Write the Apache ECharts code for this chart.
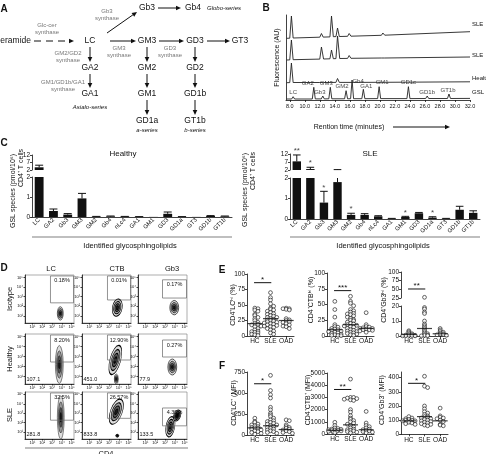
<!DOCTYPE html>
<html>
<head>
<meta charset="utf-8">
<script src="https://cdn.jsdelivr.net/npm/echarts@6/dist/echarts.min.js"></script>
<style>
html, body { margin: 0; padding: 0; background: #fff; }
#main { width: 486px; height: 454px; }
</style>
</head>
<body>
<div id="main"></div>
<script>
var FONT = '"Liberation Sans", Arial, Helvetica, sans-serif';

// ---------- A: pathway ----------
var pathNodes = ['Ceramide', 'LC', 'GA2', 'GA1', 'Gb3', 'Gb4', 'GM3', 'GM2', 'GM1', 'GD1a', 'GD3', 'GD2', 'GD1b', 'GT1b', 'GT3'];
var pathEnzymes = ['Glc-cer\nsynthase', 'Gb3\nsynthase', 'GM2/GD2\nsynthase', 'GM1/GD1b/GA1\nsynthase', 'GM3\nsynthase', 'GD3\nsynthase'];
var pathSeriesNames = ['Globo-series', 'Asialo-series', 'a-series', 'b-series'];

// ---------- B: HPLC traces [minutes, fluorescence (stacked, AU)] ----------
var bTraceNames = ['SLE', 'SLE', 'Healthy', 'GSL std'];
var bSLE1 = [[7.6,61.7],[8.0,61.8],[8.22,84],[8.45,62],[12.0,62.8],[12.22,66.5],[12.45,62.9],[13.35,63.1],[13.56,84],[13.8,63.3],[14.15,63.4],[14.36,72],[14.6,63.5],[15.7,63.7],[15.91,66.5],[16.15,63.8],[20.2,64.7],[20.4,67],[20.65,64.8],[32,68.3]];
var bSLE2 = [[7.6,40],[8.0,40.1],[8.22,60],[8.45,40.3],[12.0,40.9],[12.22,53],[12.5,41],[13.35,41.2],[13.56,50],[13.8,41.3],[14.15,41.4],[14.36,64],[14.65,41.5],[15.7,41.6],[15.91,44.5],[16.15,41.7],[20.2,42],[20.4,44],[20.65,42],[32,43]];
var bHealthy = [[7.6,17.3],[8.0,17.4],[8.22,37],[8.45,17.5],[12.0,17.5],[12.22,18.5],[12.45,17.5],[14.15,17.6],[14.36,21.5],[14.6,17.6],[16.5,17.6],[16.7,19.2],[16.95,17.6],[20.2,17.7],[20.4,18.3],[20.6,17.7],[32,18.2]];
var bStd = [[7.6,1],[8.25,1],[8.45,3.3],[8.65,1],[11.0,1],[11.2,12.7],[11.4,1.1],[12.2,1.1],[12.4,4],[12.6,1.1],[13.2,1.2],[13.4,12.7],[13.6,1.2],[15.3,1.2],[15.5,9.3],[15.7,1.2],[16.1,1.3],[16.3,20],[16.5,1.3],[17.6,1.3],[17.8,10.7],[18.0,1.3],[19.7,1.4],[19.9,13.3],[20.1,1.4],[23.6,1.4],[23.8,13.3],[24.0,1.4],[26.1,1.5],[26.3,4],[26.5,1.5],[29.0,1.5],[29.2,6],[29.4,1.5],[32,1.6]];
var bStdPeakNames = ['LC', 'GA2', 'Gb3', 'GM3', 'GM2', 'Gb4', 'GA1', 'GM1', 'GD1c', 'GD1b', 'GT1b'];
var bStdPeakTimes = [8.45, 11.2, 12.4, 13.4, 15.5, 16.3, 17.8, 19.9, 23.8, 26.3, 29.2];
var bStdPeakHeights = [3.3, 12.7, 4, 12.7, 9.3, 20, 10.7, 13.3, 13.3, 4, 6];
var bTicks = [8, 10, 12, 14, 16, 18, 20, 22, 24, 26, 28, 30, 32];

// ---------- C: GSL species (pmol/10^6 CD4+ T cells) ----------
var gslCats = ['LC', 'GA2', 'Gb3', 'GM3', 'GM2', 'Gb4', 'nLc4', 'GA1', 'GM1', 'GD3', 'GD1a', 'GT3', 'GD1b', 'GT1b'];
var healthyMean = [3.8, 0.3, 0.12, 0.93, 0.02, 0.03, 0.02, 0.01, 0.005, 0.16, 0.01, 0.005, 0.05, 0.03];
var healthyErr = [1.4, 0.1, 0.05, 0.25, 0.01, 0.02, 0.01, 0.01, 0, 0.09, 0.01, 0, 0.02, 0.02];
var sleMean = [7.4, 2.6, 0.8, 1.8, 0.2, 0.2, 0.13, 0.02, 0.1, 0.28, 0.07, 0.02, 0.45, 0.3];
var sleErr = [4.0, 1.1, 0.55, 0.45, 0.08, 0.06, 0.03, 0.01, 0.03, 0.04, 0.04, 0.01, 0.17, 0.1];
var sleStars = ['**', '*', '*', '', '*', '', '', '', '*', '', '*', '', '', ''];
var cLowTicks = [0, 1, 2];
var cHighTicks = [2, 7, 12];

// ---------- D: flow cytometry ----------
var dCols = ['LC', 'CTB', 'Gb3'];
var dRows = ['Isotype', 'Healthy', 'SLE'];
var dPct = [['0.18%', '0.01%', '0.17%'], ['8.20%', '12.90%', '0.27%'], ['32.5%', '26.57%', '4.39%']];
var dMfi = [['', '', ''], ['107.1', '451.0', '77.9'], ['281.8', '833.8', '133.5']];
var dGates = [
  [[2.6, 2.1, 4.95, 4.9], [2.6, 2.4, 4.95, 4.9], [2.5, 2.6, 4.95, 4.5]],
  [[2.6, 2.2, 4.95, 4.9], [2.6, 2.4, 4.95, 4.9], [2.5, 2.7, 4.95, 4.4]],
  [[2.6, 2.0, 4.95, 4.9], [2.6, 2.2, 4.95, 4.9], [2.5, 1.4, 4.95, 3.3]]
];
// contour populations: [CD4, marker, half-width, half-height, tilt deg, dense]
var dBlobs = [
  [[[3.6, 1.0, 0.3, 0.7, 0, 0]], [[3.6, 1.6, 0.5, 0.9, -10, 0]], [[3.7, 1.6, 0.45, 0.75, 0, 0]]],
  [[[3.5, 1.95, 0.4, 1.9, 0, 0]], [[3.5, 0.5, 0.2, 0.5, 0, 0], [3.4, 2.4, 0.55, 1.5, -15, 0]], [[3.5, 1.7, 0.45, 0.8, 0, 0]]],
  [[[3.65, 2.3, 0.35, 2.3, 0, 0]], [[3.6, 0.35, 0.15, 0.15, 0, 0], [3.5, 2.9, 0.6, 1.4, -20, 0]], [[3.3, 1.3, 0.45, 1.1, -10, 0], [4.0, 2.5, 0.35, 0.6, -20, 1]]]
];
var dTicks = [0.75, 1.75, 2.75, 3.75, 4.75];

// ---------- E / F: dot plots ----------
var dotGroups = ['HC', 'SLE', 'OAD'];
var e1HC = [45,44,42,40,35,33,30,28,25,22,20,19,18,16,15,12,10,8,7,6,5,3,2,1];
var e1SLE = [70,62,58,52,48,45,43,42,40,38,36,35,33,32,30,30,28,27,26,25,24,23,22,21,20,19,18,17,16,15,14,12,10,8,5,3];
var e1OAD = [45,44,44,43,42,28,26,25,23,22,20,18,16,15,12];
var e1Med = [20, 28, 25];
var e2HC = [55,42,30,18,15,14,12,11,10,9,8,7,6,5,4,3,2,1,1,0.5];
var e2SLE = [63,55,52,48,42,40,38,36,35,34,32,30,28,26,25,24,22,20,19,18,17,16,15,14,12,10,9,8,7,6,5,4,3,2,1];
var e2OAD = [37,18,15,14,13,12,12,11,10,10,9,8,6];
var e2Med = [10, 18, 12];
var e3HC = [3.5,2.8,2,1.5,1,0.8,0.6,0.5,0.4,0.3,0.2,0.1,0.1];
var e3SLE = [27,19,18,16,15,10,8,7,6,5,4,3,2,1.5,1,0.5,0.3,0.2,0.1];
var e3OAD = [5,4,3,2.5,2,1.5,1.2,1,0.8,0.5];
var e3Med = [1, 5, 1.5];
var f1HC = [200,160,150,130,120,110,100,90,85,80,70,60,50,40,30,20,10];
var f1SLE = [710,530,480,440,330,300,260,240,220,200,180,170,160,150,140,130,120,110,100,90,80,70,60,50,40,30,20];
var f1OAD = [180,170,120,100,90,80,70,60,50,40,30,20];
var f1Med = [85, 110, 65];
var f2HC = [960,700,500,450,400,380,350,320,300,280,250,220,200,150,100];
var f2SLE = [4500,3000,3000,2950,2900,2850,2800,2750,2000,1800,1500,1300,1200,1100,1000,900,800,700,600,500,400,350,300,250,200,150,100];
var f2OAD = [1850,900,700,600,500,400,350,300,250,200,150,100];
var f2Med = [300, 750, 350];
var f3HC = [125,115,110,105,100,100,95,95,90,90,85,80,75,70];
var f3SLE = [410,340,330,200,180,160,150,140,130,125,120,115,110,105,100,95,90,85,80,75,70,65,60];
var f3OAD = [185,130,120,115,110,100,90,70,65,60];
var f3Med = [95, 125, 95];
var eTicks = [0, 25, 50, 75, 100];
var e3LowTicks = [0, 10, 20];
var e3HighTicks = [25, 50, 75, 100];
var f1Ticks = [0, 250, 500, 750];
var f2Ticks = [0, 1000, 2000, 3000, 4000, 5000];
var f3Ticks = [0, 100, 200, 300, 400];

// ================= build =================
var chart = echarts.init(document.getElementById('main'));
var grids = [], xAxes = [], yAxes = [], series = [], gfx = [];

function addGrid(rect, xa, ya) {
  var i = grids.length;
  grids.push(rect);
  xa.gridIndex = i; ya.gridIndex = i;
  xAxes.push(xa); yAxes.push(ya);
  return i;
}
function onGrid(i, s) {
  s.xAxisIndex = i; s.yAxisIndex = i;
  series.push(s);
}
function valAxis(min, max, ticks, o) {
  o = o || {};
  return {
    type: 'value', min: min, max: max, show: o.show !== false,
    axisLine: { show: true, onZero: false, lineStyle: { color: '#111', width: 0.8 } },
    axisTick: { show: !!ticks, length: o.tickLen || 2, customValues: ticks || undefined, lineStyle: { color: '#111', width: 0.8 } },
    axisLabel: { show: !!ticks, customValues: ticks || undefined, fontSize: o.fs || 6.5, margin: o.margin || 2,
      color: '#111', formatter: o.fmt, fontFamily: FONT },
    splitLine: { show: false }
  };
}
function txt(x, y, s, size, o) {
  o = o || {};
  gfx.push({
    type: 'text', x: x, y: y, rotation: o.rot || 0, z: 100,
    style: {
      text: s, x: 0, y: 0, fill: o.color || '#111',
      font: (o.italic ? 'italic ' : '') + (o.bold ? 'bold ' : '') + size + 'px ' + FONT,
      textAlign: o.align || 'center', align: o.align || 'center',
      textVerticalAlign: o.valign || 'middle', verticalAlign: o.valign || 'middle',
      lineHeight: o.lh || size * 1.15
    }
  });
}
function seg(x1, y1, x2, y2, color, w, dash) {
  gfx.push({ type: 'line', z: 100, shape: { x1: x1, y1: y1, x2: x2, y2: y2 },
    style: { stroke: color || '#111', lineWidth: w || 1, lineDash: dash || null } });
}
function arrow(x1, y1, x2, y2, dash) {
  var a = Math.atan2(y2 - y1, x2 - x1), L = 5, W = 2.3;
  var bx = x2 - L * Math.cos(a), by = y2 - L * Math.sin(a);
  seg(x1, y1, bx, by, '#111', 1, dash);
  gfx.push({ type: 'polygon', z: 100, shape: { points: [[x2, y2],
    [bx + W * Math.sin(a), by - W * Math.cos(a)], [bx - W * Math.sin(a), by + W * Math.cos(a)]] },
    style: { fill: '#111' } });
}

// panel letters
[['A', 4, 9], ['B', 266, 8], ['C', 4, 143], ['D', 4, 268], ['E', 222, 270], ['F', 222, 366]].forEach(function (p) {
  txt(p[1], p[2], p[0], 10, { bold: true });
});

// ---- A ----
var nodePos = { Ceramide: [31, 41], LC: [90, 41], GA2: [90, 68], GA1: [90, 94], Gb3: [147, 8], Gb4: [193, 8],
  GM3: [147, 41], GM2: [147, 68], GM1: [147, 94], GD1a: [147, 121], GD3: [195, 41], GD2: [195, 68],
  GD1b: [195, 94], GT1b: [195, 121], GT3: [240, 41] };
pathNodes.forEach(function (n) {
  var p = nodePos[n];
  txt(p[0], p[1], n, 8.5, { align: n === 'Ceramide' ? 'right' : 'center' });
});
var enzPos = [[47, 29], [107, 15], [68, 57], [63, 86], [119, 52], [170, 52]];
pathEnzymes.forEach(function (s, k) { txt(enzPos[k][0], enzPos[k][1], s, 6, { color: '#777', lh: 7.5 }); });
var seriesPos = [[224, 8], [90, 107], [147, 130], [195, 130]];
pathSeriesNames.forEach(function (s, k) { txt(seriesPos[k][0], seriesPos[k][1], s, 6, { italic: true }); });
var arrows = [[34, 41, 74, 41, [7, 5]], [107, 33, 137, 12], [158, 8, 181, 8], [110, 41, 136, 41], [159, 41, 184, 41],
  [207, 41, 230, 41], [90, 47, 90, 62], [90, 74, 90, 88], [147, 47, 147, 62], [147, 74, 147, 88], [147, 100, 147, 115],
  [195, 47, 195, 62], [195, 74, 195, 88], [195, 100, 195, 115]];
arrows.forEach(function (a) { arrow(a[0], a[1], a[2], a[3], a[4]); });

// ---- B ----
var gB = addGrid({ left: 286, top: 15, width: 184, height: 85 },
  valAxis(7.5, 32, bTicks, { fs: 5.5, margin: 3, fmt: function (v) { return v.toFixed(1); } }),
  Object.assign(valAxis(0, 85, null), { name: 'Fluorescence (AU)', nameLocation: 'middle', nameGap: 5,
    nameTextStyle: { fontSize: 7, color: '#111', fontFamily: FONT } }));
var bEndOffset = [[0, -7], [0, -2], [0, -3], [0, -6]];
[bSLE1, bSLE2, bHealthy, bStd].forEach(function (d, k) {
  onGrid(gB, { type: 'line', name: bTraceNames[k], data: d, symbol: 'none', silent: true,
    lineStyle: { color: '#222', width: 0.9 },
    endLabel: { show: true, formatter: '{a}', fontSize: 6, color: '#111', distance: 2, offset: bEndOffset[k], fontFamily: FONT } });
});
var bLabelOffset = [[0, 0], [-6, 0], [-3, 0], [-4, 0], [-4, 0], [6, 5], [3, 1], [3, 0], [0, 0], [0, 0], [-1, 0]];
onGrid(gB, { type: 'scatter', symbolSize: 0.01, silent: true, itemStyle: { color: 'rgba(0,0,0,0)' },
  data: bStdPeakNames.map(function (n, k) {
    return { name: n, value: [bStdPeakTimes[k], bStdPeakHeights[k]], label: { offset: bLabelOffset[k] } };
  }),
  label: { show: true, position: 'top', distance: 1, formatter: '{b}', fontSize: 6, color: '#111', fontFamily: FONT } });
txt(349, 127, 'Rention time (minutes)', 7);
arrow(393, 127, 450, 127);

// ---- C ----
function errRender(lo, hi) {
  return function (params, api) {
    var i = api.value(0), v = api.value(1), e = api.value(2), top = v + e;
    if (!(e > 0)) return;
    var a = Math.max(v, lo), b = Math.min(top, hi);
    if (b <= a) return;
    var p1 = api.coord([i, a]), p2 = api.coord([i, b]);
    var w = api.size([1, 0])[0] * 0.28;
    var ch = [{ type: 'line', shape: { x1: p1[0], y1: p1[1], x2: p2[0], y2: p2[1] }, style: { stroke: '#111', lineWidth: 1 } }];
    if (top <= hi) ch.push({ type: 'line', shape: { x1: p2[0] - w, y1: p2[1], x2: p2[0] + w, y2: p2[1] }, style: { stroke: '#111', lineWidth: 1 } });
    return { type: 'group', children: ch };
  };
}
function barPanel(P, means, errs, stars) {
  var catLow = { type: 'category', data: gslCats,
    axisLine: { lineStyle: { color: '#111', width: 0.8 } },
    axisTick: { alignWithLabel: true, length: 2, lineStyle: { color: '#111' } },
    axisLabel: { rotate: 45, interval: 0, fontSize: 6, margin: 2, color: '#111', fontFamily: FONT } };
  var gLow = addGrid({ left: P.left, top: P.lowTop, width: P.width, height: P.lowH }, catLow, valAxis(0, 2, cLowTicks));
  var gHigh = addGrid({ left: P.left, top: P.highTop, width: P.width, height: P.highH },
    { type: 'category', data: gslCats, show: false }, valAxis(2, 12, cHighTicks));
  onGrid(gLow, { type: 'bar', barWidth: '62%', itemStyle: { color: '#111' }, silent: true,
    data: means.map(function (v) { return Math.min(v, 2); }) });
  onGrid(gHigh, { type: 'bar', barWidth: '62%', itemStyle: { color: '#111' }, silent: true, clip: true,
    data: means.map(function (v) { return v > 2 ? v : '-'; }) });
  var ed = means.map(function (v, i) { return [i, v, errs[i]]; });
  onGrid(gLow, { type: 'custom', data: ed, renderItem: errRender(0, 2), z: 3, silent: true });
  onGrid(gHigh, { type: 'custom', data: ed, renderItem: errRender(2, 12), z: 3, silent: true });
  if (stars) {
    var lowS = [], highS = [];
    stars.forEach(function (s, i) {
      if (!s) return;
      var t = means[i] + errs[i];
      (t > 2 ? highS : lowS).push({ value: [i, t], label: { formatter: s } });
    });
    [[gLow, lowS], [gHigh, highS]].forEach(function (p) {
      onGrid(p[0], { type: 'scatter', symbolSize: 0.01, itemStyle: { color: 'rgba(0,0,0,0)' }, data: p[1], silent: true,
        label: { show: true, position: 'top', distance: 0, fontSize: 8, color: '#111', fontFamily: FONT } });
    });
  }
}
barPanel({ left: 32, width: 200, lowTop: 177, lowH: 40, highTop: 155, highH: 15 }, healthyMean, healthyErr, null);
barPanel({ left: 290, width: 190, lowTop: 178, lowH: 41, highTop: 154, highH: 16 }, sleMean, sleErr, sleStars);
txt(123, 154, 'Healthy', 8);
txt(370, 154, 'SLE', 8);
seg(32, 237, 232, 237, '#aaa', 1.5);
seg(290, 237, 480, 237, '#aaa', 1.5);
txt(130, 246, 'Identified glycosphingolipids', 7.5);
txt(383, 246, 'Identified glycosphingolipids', 7.5);
txt(13, 191, 'GSL species (pmol/10\u2076)', 7, { rot: Math.PI / 2 });
txt(21, 168, 'CD4\u207A T cells', 7, { rot: Math.PI / 2 });
txt(245, 190, 'GSL species (pmol/10\u2076)', 7, { rot: Math.PI / 2 });
txt(253, 171, 'CD4\u207A T cells', 7, { rot: Math.PI / 2 });

// ---- D ----
var sup = ['\u2070', '\u00B9', '\u00B2', '\u00B3', '\u2074', '\u2075'];
function dFmt(v) { return '10' + sup[Math.round(v - 0.75) + 1]; }
function blobRender(params, api) {
  var c = api.coord([api.value(0), api.value(1)]);
  var s = api.size([api.value(2), api.value(3)]);
  var rot = api.value(4) * Math.PI / 180;
  var fills = api.value(5) ? ['#bdbdbd', '#666', '#1a1a1a', '#000'] : ['#dedede', '#9a9a9a', '#555', '#1a1a1a'];
  var ch = [1, 0.72, 0.46, 0.22].map(function (f, k) {
    return { type: 'circle', shape: { cx: 0, cy: 0, r: s[1] * f }, scaleX: s[0] / s[1],
      style: { fill: fills[k], stroke: '#000', lineWidth: 0.8, strokeNoScale: true } };
  });
  return { type: 'group', x: c[0], y: c[1], rotation: rot, children: ch };
}
function gateRender(pct, mfi) {
  return function (params, api) {
    var p1 = api.coord([api.value(0), api.value(3)]), p2 = api.coord([api.value(2), api.value(1)]);
    var ch = [
      { type: 'rect', shape: { x: p1[0], y: p1[1], width: p2[0] - p1[0], height: p2[1] - p1[1] },
        style: { fill: 'none', stroke: '#666', lineWidth: 0.7 } },
      { type: 'text', style: { text: pct, x: (p1[0] + p2[0]) / 2, y: p1[1] + 2, fill: '#111', font: '5.5px ' + FONT,
        textAlign: 'center', align: 'center', textVerticalAlign: 'top', verticalAlign: 'top' } }
    ];
    if (mfi) {
      var q = api.coord([0.15, 0.2]);
      ch.push({ type: 'text', style: { text: mfi, x: q[0], y: q[1], fill: '#111', font: '5.5px ' + FONT,
        textAlign: 'left', align: 'left', textVerticalAlign: 'bottom', verticalAlign: 'bottom' } });
    }
    return { type: 'group', children: ch };
  };
}
var dLeft = [25, 82, 138], dTop = [275, 334, 392], dH = [48, 50, 47];
dRows.forEach(function (rowName, r) {
  dCols.forEach(function (colName, c) {
    var g = addGrid({ left: dLeft[c], top: dTop[r], width: 49, height: dH[r], show: true, borderColor: '#777', borderWidth: 0.6 },
      valAxis(0, 5, dTicks, { fs: 4, fmt: dFmt, tickLen: 1.5, margin: 2 }),
      valAxis(0, 5, dTicks, { fs: 4, fmt: dFmt, tickLen: 1.5, margin: 2 }));
    onGrid(g, { type: 'custom', data: dBlobs[r][c], renderItem: blobRender, silent: true, clip: true });
    onGrid(g, { type: 'custom', data: [dGates[r][c]], renderItem: gateRender(dPct[r][c], dMfi[r][c]), silent: true, z: 4 });
  });
});
var dHeadX = [51, 117, 172];
dCols.forEach(function (s, c) { txt(dHeadX[c], 269, s, 7.5); });
var dRowY = [299, 359, 415];
dRows.forEach(function (s, r) { txt(10, dRowY[r], s, 7.5, { rot: Math.PI / 2 }); });
seg(25, 448, 188, 448, '#aaa', 1.5);
txt(106, 450, 'CD4', 7.5, { valign: 'top' });

// ---- E / F ----
var swarmOffsets = [0, 0.2, -0.2, 0.4, -0.4, 0.1, -0.1, 0.3, -0.3];
function swarm(vals, center, bin) {
  var cnt = {};
  return vals.map(function (v) {
    var b = Math.round(v / bin), k = cnt[b] || 0;
    cnt[b] = k + 1;
    return [center + swarmOffsets[k % swarmOffsets.length], v];
  });
}
function dotX(show) {
  return valAxis(0, 3, [0.5, 1.5, 2.5], { show: show, fmt: function (v) { return dotGroups[Math.floor(v)]; } });
}
function addDots(g, groups, bin, keep) {
  var pts = [];
  groups.forEach(function (vals, k) {
    swarm(vals.filter(keep), k + 0.5, bin).forEach(function (p) { pts.push(p); });
  });
  onGrid(g, { type: 'scatter', data: pts, symbol: 'circle', symbolSize: 3.8, silent: true,
    itemStyle: { color: '#fff', borderColor: '#111', borderWidth: 0.8 } });
}
function addMed(g, meds) {
  onGrid(g, { type: 'scatter', data: meds.map(function (m, k) { return [k + 0.5, m]; }), symbol: 'rect',
    symbolSize: [15, 1.2], itemStyle: { color: '#111' }, z: 5, silent: true });
}
function addSig(g, y, s) {
  onGrid(g, { type: 'custom', data: [[0.45, 1.55, y]], silent: true, z: 6, clip: false,
    renderItem: function (params, api) {
      var a = api.coord([api.value(0), api.value(2)]), b = api.coord([api.value(1), api.value(2)]);
      return { type: 'group', children: [
        { type: 'line', shape: { x1: a[0], y1: a[1], x2: b[0], y2: b[1] }, style: { stroke: '#111', lineWidth: 1 } },
        { type: 'text', style: { text: s, x: (a[0] + b[0]) / 2, y: a[1] + 1, fill: '#111', font: '8px ' + FONT,
          textAlign: 'center', align: 'center', textVerticalAlign: 'bottom', verticalAlign: 'bottom' } }
      ] };
    } });
}
function all() { return true; }
function dotPanel(left, top, h, max, ticks, groups, meds, sigY, sigS, label, labelX, labelY) {
  var g = addGrid({ left: left, top: top, width: 47, height: h }, dotX(true), valAxis(0, max, ticks,
    { fmt: function (v) { return ticks.indexOf(v) >= 0 ? String(v) : ''; } }));
  addDots(g, groups, max / 22, all);
  addMed(g, meds);
  addSig(g, sigY, sigS);
  txt(labelX, labelY, label, 7, { rot: Math.PI / 2 });
}
dotPanel(247, 274, 62, 100, eTicks, [e1HC, e1SLE, e1OAD], e1Med, 86, '*', 'CD4\u207ALC\u02B0\u2071 (%)', 233, 305);
dotPanel(327, 273, 63, 100, eTicks, [e2HC, e2SLE, e2OAD], e2Med, 72, '***', 'CD4\u207ACTB\u02B0\u2071 (%)', 311, 300);
// E3 with broken axis
var gE3lo = addGrid({ left: 401, top: 306, width: 47, height: 30 }, dotX(true), valAxis(0, 20, e3LowTicks));
var gE3hi = addGrid({ left: 401, top: 272, width: 47, height: 26 }, dotX(false), valAxis(25, 100, e3HighTicks));
addDots(gE3lo, [e3HC, e3SLE, e3OAD], 1, function (v) { return v <= 22; });
addDots(gE3hi, [e3HC, e3SLE, e3OAD], 4, function (v) { return v > 22; });
addMed(gE3lo, e3Med);
addSig(gE3hi, 51, '**');
txt(384, 300, 'CD4\u207AGb3\u02B0\u2071 (%)', 7, { rot: Math.PI / 2 });

dotPanel(247, 372, 63, 750, f1Ticks, [f1HC, f1SLE, f1OAD], f1Med, 610, '*', 'CD4\u207ALC\u207A (MFI)', 234, 403);
dotPanel(327, 373, 61, 5000, f2Ticks, [f2HC, f2SLE, f2OAD], f2Med, 3650, '**', 'CD4\u207ACTB\u207A (MFI)', 308, 400);
dotPanel(401, 372, 62.3, 440, f3Ticks, [f3HC, f3SLE, f3OAD], f3Med, 360, '*', 'CD4\u207AGb3\u207A (MFI)', 382, 400);

chart.setOption({
  animation: false,
  backgroundColor: '#fff',
  textStyle: { fontFamily: FONT, color: '#111' },
  grid: grids,
  xAxis: xAxes,
  yAxis: yAxes,
  series: series,
  graphic: { elements: gfx }
});
</script>
</body>
</html>
